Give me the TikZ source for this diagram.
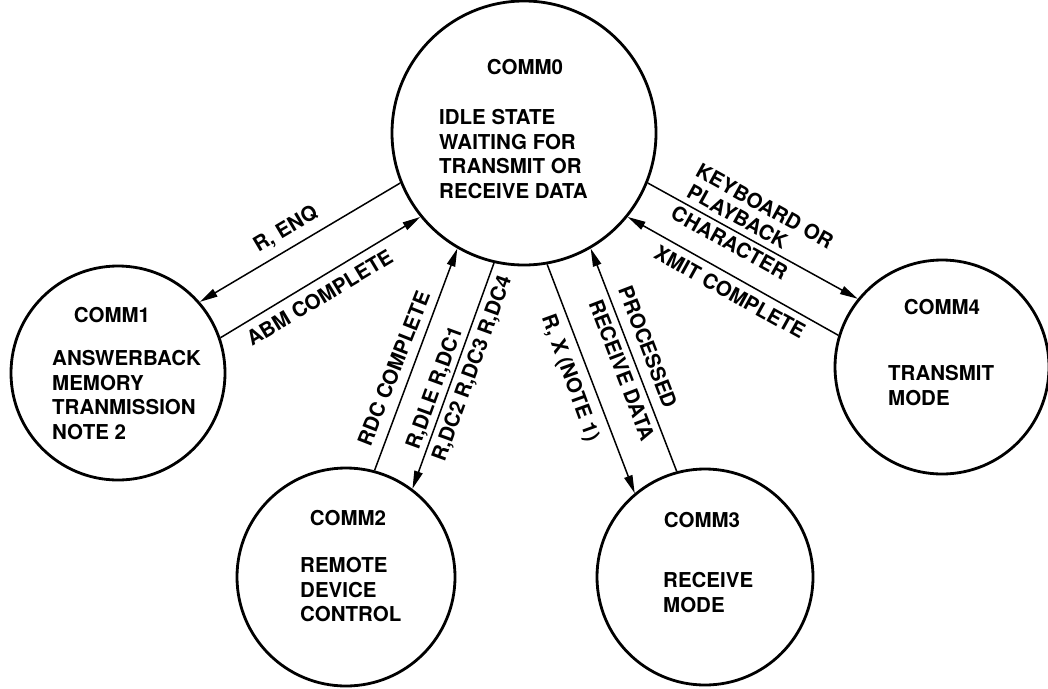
\documentclass[tikz,border=0pt]{standalone}
\usepackage{fontspec}
\usetikzlibrary{arrows.meta}
\newfontfamily\lbl{TeX Gyre Heros}
\begin{document}
\begin{tikzpicture}[x=1pt,y=-1pt,
  statecircle/.style={circle, draw, line width=2.8pt, minimum size=#1, inner sep=0pt},
  txt/.style={font=\lbl\bfseries\fontsize{20.5}{24.5}\selectfont, inner sep=0pt, text depth=0pt},
  blk/.style={font=\lbl\bfseries\fontsize{20.5}{24.5}\selectfont, inner sep=0pt, align=left, anchor=north west},
  flow/.style={line width=1.5pt, -{Triangle[length=18pt,width=8.5pt]}}]
% page
\fill[white] (0,0) rectangle (1048,688);
\useasboundingbox (0,0) rectangle (1048,688);

% states
\node[statecircle=264pt] (c0) at (524,133) {};
\node[statecircle=214pt] (c1) at (118,373) {};
\node[statecircle=218pt] (c2) at (346,577) {};
\node[statecircle=216pt] (c3) at (705,577) {};
\node[statecircle=214pt] (c4) at (942,367) {};

% state names and descriptions
\node[txt] (t0) at (525,67) {COMM0};
\node[blk] (b0) at (439,109.5) {IDLE STATE\\WAITING FOR\\TRANSMIT OR\\RECEIVE DATA};
\node[txt] (t1) at (112,315) {COMM1};
\node[blk] (b1) at (52,350.5) {ANSWERBACK\\MEMORY\\TRANMISSION\\NOTE 2};
\node[txt] (t2) at (348,518) {COMM2};
\node[blk] (b2) at (300,557.5) {REMOTE\\DEVICE\\CONTROL};
\node[txt] (t3) at (702,520) {COMM3};
\node[blk] (b3) at (663,572.5) {RECEIVE\\MODE};
\node[txt] (t4) at (942,307) {COMM4};
\node[blk] (b4) at (888,365.5) {TRANSMIT\\MODE};

% transitions
\draw[flow] (c0.202) -- (c1.41);
\draw[flow] (c1.19) -- (c0.219);
\draw[flow] (c2.75) -- (c0.240);
\draw[flow] (c0.257) -- (c2.53);
\draw[flow] (c0.280) -- (c3.130);
\draw[flow] (c3.105) -- (c0.300);
\draw[flow] (c0.338) -- (c4.141);
\draw[flow] (c4.163) -- (c0.321);

% transition labels
\node[txt, rotate=30.7] (l1) at (285,228) {R, ENQ};
\node[txt, rotate=31] (l2) at (319.5,297.5) {ABM COMPLETE};
\node[txt, rotate=68.5] (l3) at (393.5,368.5) {RDC COMPLETE};
\node[txt, rotate=70] (l4) at (433.5,387.5) {R,DLE R,DC1};
\node[txt, rotate=70] (l5) at (471,368) {R,DC2 R,DC3 R,DC4};
\node[txt, rotate=-70] (l6) at (571.5,377.5) {R, X (NOTE 1)};
\node[txt, rotate=-69] (l7) at (648,347) {PROCESSED};
\node[txt, rotate=-69] (l8) at (622,370) {RECEIVE DATA};
\node[txt, rotate=-29] (l9) at (765,206) {KEYBOARD OR};
\node[txt, rotate=-29] (l10) at (737.5,216.5) {PLAYBACK};
\node[txt, rotate=-29] (l11) at (729.5,242.5) {CHARACTER};
\node[txt, rotate=-29] (l12) at (730,292) {XMIT COMPLETE};
\end{tikzpicture}
\end{document}
